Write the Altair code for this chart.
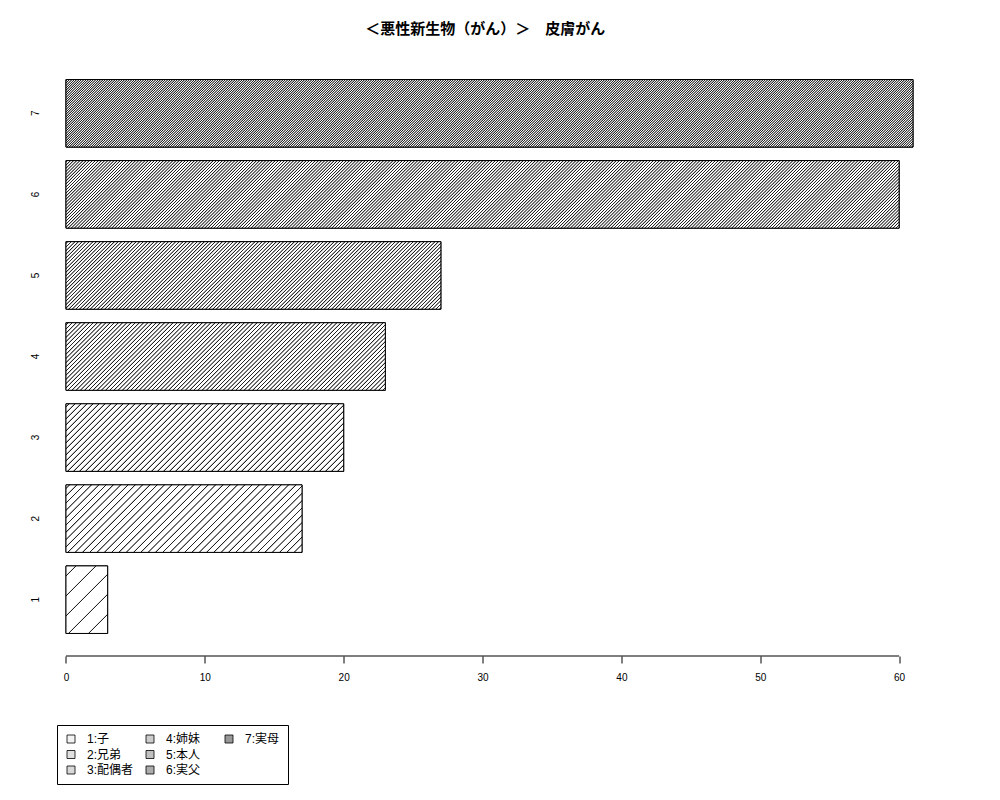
import math
import altair as alt
import pandas as pd

# ---- data ----
categories = ["1", "2", "3", "4", "5", "6", "7"]
values = [3, 17, 20, 23, 27, 60, 61]
legend_labels = ["1:子", "2:兄弟", "3:配偶者", "4:姉妹", "5:本人", "6:実父", "7:実母"]
x_ticks = [0, 10, 20, 30, 40, 50, 60]
title_text = "＜悪性新生物（がん）＞　皮膚がん"

# ---- style ----
hatch_spacing = [20, 7.3, 6.0, 4.2, 3.6, 3.1, 2.4]   # horizontal px between hatch lines
legend_fill = ["#f2f2f2", "#e0e0e0", "#d8d8d8", "#cccccc", "#c0c0c0", "#acacac", "#989898"]
FONT = "Liberation Sans, Noto Sans CJK JP"

W, H = 855.5, 599
x_domain = [-0.61, 61]
pad_inner = 1 / 6
pad_outer = 0.278
step = H / (len(categories) - pad_inner + 2 * pad_outer)
bar_h = step * (1 - pad_inner)
px_per_unit = W / (x_domain[1] - x_domain[0])


def hatch_gradient(w, h, spacing, core=0.18, ramp=0.5, col="#222222"):
    """Diagonal hatch (45 deg, lower-left to upper-right) as a striped linear gradient."""
    total = w + h
    c = (w + h) / (w * w + h * h)
    r2 = math.sqrt(2)
    cs = core * r2 / total
    rs = ramp * r2 / total
    stops = [{"offset": 0, "color": "white"}]
    s = spacing / 2
    while s < total:
        t = s / total
        for off, colr in [(t - cs - rs, "white"), (t - cs, col), (t + cs, col), (t + cs + rs, "white")]:
            stops.append({"offset": min(max(off, 0.0), 1.0), "color": colr})
        s += spacing
    stops.append({"offset": 1, "color": "white"})
    last = 0.0
    for st in stops:
        if st["offset"] < last:
            st["offset"] = last
        last = st["offset"]
    return alt.LinearGradient(gradient="linear", x1=0, y1=0, x2=w * c, y2=h * c, stops=stops)


df = pd.DataFrame({
    "cat": categories,
    "value": values,
    "start": [0] * len(categories),
    "label": legend_labels,
})

# blank entry at the end so the 3-column legend reads 1-2-3 / 4-5-6 / 7 down the columns
blank = " "
legend_domain = legend_labels + [blank]
legend_range = legend_fill + ["transparent"]

x_scale = alt.Scale(domain=x_domain, nice=False, zero=False)
y_scale = alt.Scale(paddingInner=pad_inner, paddingOuter=pad_outer)
y_sort = categories[::-1]
x_axis = alt.Axis(values=x_ticks, title=None, domain=False, grid=False,
                  tickSize=7, tickColor="black", tickWidth=1, labelPadding=9,
                  labelFont=FONT, labelFontSize=10, labelColor="black", format="d")
y_axis = alt.Axis(title=None, ticks=False, tickSize=0, domain=False,
                  labelAngle=270, labelAlign="center", labelBaseline="bottom",
                  labelPadding=17, labelFont=FONT, labelFontSize=10, labelColor="black")

legend_layer = alt.Chart(df).mark_bar(stroke="black", strokeWidth=1).encode(
    x=alt.X("start:Q", scale=x_scale, axis=x_axis),
    x2="value:Q",
    y=alt.Y("cat:N", sort=y_sort, scale=y_scale, axis=y_axis),
    fill=alt.Fill(
        "label:N",
        scale=alt.Scale(domain=legend_domain, range=legend_range),
        legend=alt.Legend(
            title=None, orient="none", legendX=-0.5, legendY=668, direction="vertical",
            columns=3, gridAlign="all", columnPadding=10, rowPadding=3.5,
            symbolType="square", symbolSize=64, symbolStrokeWidth=0.8,
            symbolStrokeColor=alt.ExprRef("datum.label == ' ' ? 'transparent' : 'black'"),
            labelFont=FONT, labelFontSize=12, labelColor="black", labelOffset=10,
            strokeColor="black", padding=8, fillColor="white",
        ),
    ),
)

layers = [legend_layer]
for cat, v, sp in zip(categories, values, hatch_spacing):
    w = v * px_per_unit
    layers.append(
        alt.Chart(df).transform_filter(alt.datum.cat == cat)
        .mark_bar(fill=hatch_gradient(w, bar_h, sp), stroke="black", strokeWidth=1)
        .encode(x=alt.X("start:Q", scale=x_scale, axis=x_axis), x2="value:Q",
                y=alt.Y("cat:N", sort=y_sort, scale=y_scale, axis=y_axis))
    )

axis_df = pd.DataFrame({"start": [min(x_ticks)], "t2": [max(x_ticks)]})
axis_line = alt.Chart(axis_df).mark_rule(color="black", strokeWidth=1).encode(
    x=alt.X("start:Q", scale=x_scale, axis=x_axis), x2="t2:Q", y=alt.value(H)
)
layers.append(axis_line)

chart = alt.layer(*layers).properties(
    width=W, height=H,
    title=alt.TitleParams(title_text, font="Noto Sans CJK JP", fontSize=15,
                          fontWeight="bold", anchor="middle", offset=20, color="black"),
    autosize=alt.AutoSizeParams(type="none"),
    padding={"left": 49.5, "top": 49, "right": 79, "bottom": 134},
    background="white",
).configure_view(stroke=None)

chart.save("out.html", embed_options={"renderer": "svg", "actions": False})
